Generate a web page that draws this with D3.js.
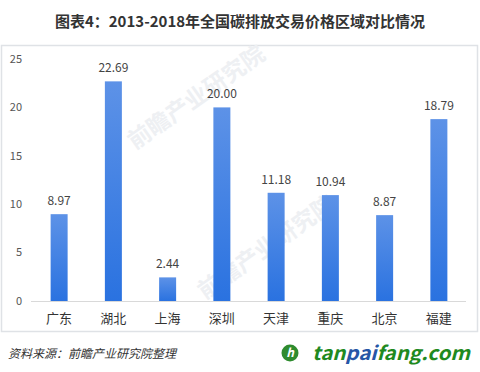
<!DOCTYPE html>
<html>
<head>
<meta charset="utf-8">
<script src="https://cdn.jsdelivr.net/npm/d3@7"></script>
<style>
  body { margin: 0; background: #fff; }
  #chart { width: 480px; height: 372px; }
  text { font-family: "Microsoft YaHei", "Noto Sans CJK SC", sans-serif; }
</style>
</head>
<body>
<div id="chart"></div>
<script>
// data
var regions = ["广东", "湖北", "上海", "深圳", "天津", "重庆", "北京", "福建"];
var prices = [8.97, 22.69, 2.44, 20.00, 11.18, 10.94, 8.87, 18.79];
var yTicks = [0, 5, 10, 15, 20, 25];

var width = 480, height = 372;
var svg = d3.select("#chart").append("svg")
    .attr("width", width)
    .attr("height", height);

// gradient for bars
var defs = svg.append("defs");
var grad = defs.append("linearGradient")
    .attr("id", "barGrad")
    .attr("x1", 0).attr("y1", 0).attr("x2", 0).attr("y2", 1);
grad.append("stop").attr("offset", "0%").attr("stop-color", "#5d92e7");
grad.append("stop").attr("offset", "100%").attr("stop-color", "#2a72e0");

// title
svg.append("text")
    .attr("x", 240).attr("y", 27)
    .attr("text-anchor", "middle")
    .attr("font-size", 15)
    .attr("font-weight", "bold")
    .attr("fill", "#333")
    .text("图表4：2013-2018年全国碳排放交易价格区域对比情况");

// chart box
svg.append("rect")
    .attr("x", 1.5).attr("y", 45.5)
    .attr("width", 476).attr("height", 286)
    .attr("fill", "none")
    .attr("stroke", "#dfe2e6")
    .attr("stroke-width", 1.5);

// watermarks (faint)
var wm = [[135, 150], [205, 300]];
wm.forEach(function (p) {
    svg.append("text")
        .attr("transform", "translate(" + p[0] + "," + p[1] + ") rotate(-35)")
        .attr("font-size", 23)
        .attr("font-weight", "bold")
        .attr("fill", "#eef0f3")
        .text("前瞻产业研究院");
});

var x = d3.scaleBand()
    .domain(regions)
    .range([32, 466])
    .padding(0);

var y = d3.scaleLinear()
    .domain([0, 25])
    .range([301, 59]);

var barW = 17;

// y ticks
svg.append("g").selectAll("text")
    .data(yTicks).enter()
    .append("text")
    .attr("x", 22)
    .attr("y", function (d) { return y(d); })
    .attr("dy", "0.35em")
    .attr("text-anchor", "end")
    .attr("font-size", 11)
    .attr("fill", "#555")
    .text(function (d) { return d; });

// baseline
svg.append("line")
    .attr("x1", 31).attr("x2", 466)
    .attr("y1", y(0) + 0.5).attr("y2", y(0) + 0.5)
    .attr("stroke", "#d9d9d9")
    .attr("stroke-width", 1);

// bars
svg.append("g").selectAll("rect")
    .data(prices).enter()
    .append("rect")
    .attr("x", function (d, i) { return x(regions[i]) + x.bandwidth() / 2 - barW / 2; })
    .attr("y", function (d) { return y(d); })
    .attr("width", barW)
    .attr("height", function (d) { return y(0) - y(d); })
    .attr("fill", "url(#barGrad)");

// value labels
svg.append("g").selectAll("text")
    .data(prices).enter()
    .append("text")
    .attr("x", function (d, i) { return x(regions[i]) + x.bandwidth() / 2; })
    .attr("y", function (d) { return y(d) - 9; })
    .attr("text-anchor", "middle")
    .attr("font-size", 12)
    .attr("fill", "#444")
    .text(function (d) { return d.toFixed(2); });

// x labels
svg.append("g").selectAll("text")
    .data(regions).enter()
    .append("text")
    .attr("x", function (d) { return x(d) + x.bandwidth() / 2; })
    .attr("y", 323)
    .attr("text-anchor", "middle")
    .attr("font-size", 13)
    .attr("fill", "#333")
    .text(function (d) { return d; });

// source
svg.append("text")
    .attr("x", 8).attr("y", 358)
    .attr("font-size", 12)
    .attr("font-style", "italic")
    .attr("fill", "#333")
    .text("资料来源：前瞻产业研究院整理");

// logo
var logo = svg.append("g").attr("transform", "translate(290,353)");
logo.append("circle").attr("r", 8.5).attr("fill", "#2e8b2e");
logo.append("text")
    .attr("x", 0).attr("y", 4)
    .attr("text-anchor", "middle")
    .attr("font-family", "DejaVu Sans")
    .attr("font-size", 12)
    .attr("font-weight", "bold")
    .attr("font-style", "italic")
    .attr("fill", "#fff")
    .text("h");

var logoText = svg.append("text")
    .attr("x", 312).attr("y", 360)
    .attr("font-family", "Verdana, 'DejaVu Sans', sans-serif")
    .attr("font-size", 19)
    .attr("font-weight", "bold")
    .attr("font-style", "italic")
    .attr("textLength", 158)
    .attr("lengthAdjust", "spacingAndGlyphs");
logoText.append("tspan").attr("fill", "#1f8a1f").text("tan");
logoText.append("tspan").attr("fill", "#2656a6").text("pai");
logoText.append("tspan").attr("fill", "#1f8a1f").text("fang.com");
</script>
</body>
</html>
